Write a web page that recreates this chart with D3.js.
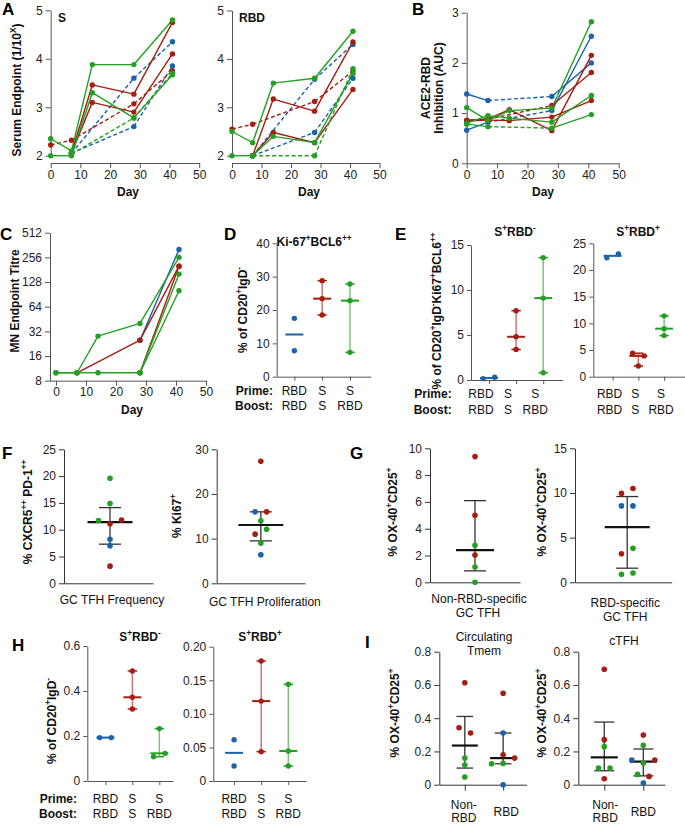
<!DOCTYPE html>
<html><head><meta charset="utf-8">
<script src="https://cdn.jsdelivr.net/npm/d3@7"></script>
<style>body{margin:0;background:#fff} svg{display:block}</style>
</head><body><svg id="c" width="685" height="826"></svg>
<script>
// ================= DATA =================
const days = [0, 7, 14, 28, 41];
const groupNames = ["RBD/RBD", "S/S", "S/RBD"];        // g index -> colour
const groupColors = ["#1c62a6", "#a61d12", "#23a023"];

// A – serum endpoint (log10) vs S
const serumS = [
  { g: 0, v: [null, 2.05, null, 3.60, 4.35] },
  { g: 0, v: [null, 2.05, null, 2.60, 3.85] },
  { g: 1, v: [null, 2.05, 3.46, 3.27, 4.75] },
  { g: 1, v: [null, 2.05, 3.10, 2.90, 4.10] },
  { g: 1, v: [2.22, 2.32, null, 3.07, 3.75] },
  { g: 2, v: [2.35, 2.10, 3.88, 3.88, 4.80] },
  { g: 2, v: [2.00, 2.00, 3.30, 2.78, 3.67] },
  { g: 2, v: [null, 2.03, null, 2.78, 3.70] }
];
// A – serum endpoint vs RBD
const serumRBD = [
  { g: 0, v: [null, 2.00, null, 3.58, 4.30] },
  { g: 0, v: [null, 2.00, null, 2.48, 3.60] },
  { g: 1, v: [null, 2.00, 3.17, 2.92, 4.35] },
  { g: 1, v: [null, 2.00, 2.48, 2.27, 3.37] },
  { g: 1, v: [2.55, 2.65, null, 3.12, 3.75] },
  { g: 2, v: [2.50, 2.27, 3.50, 3.60, 4.57] },
  { g: 2, v: [2.00, 2.00, 2.40, 2.27, 3.70] },
  { g: 2, v: [null, 2.00, null, 2.00, 3.80] }
];
// B – ACE2-RBD inhibition (AUC)
const ace2 = [
  { g: 0, v: [1.38, 1.25, null, 1.33, 2.00] },
  { g: 0, v: [0.66, 0.82, null, 1.05, 2.53] },
  { g: 1, v: [0.86, 0.88, 1.07, 0.65, 2.15] },
  { g: 1, v: [0.84, 0.86, 0.85, 0.92, 1.25] },
  { g: 1, v: [0.85, 0.88, null, 1.15, 1.81] },
  { g: 2, v: [1.11, 0.85, 1.05, 1.10, 2.82] },
  { g: 2, v: [0.80, 0.95, 0.90, 0.82, 1.35] },
  { g: 2, v: [0.78, 0.73, null, 0.70, 0.97] }
];
// C – MN endpoint titre
const mnTitre = [
  { g: 0, v: [null, null, null, 25, 320] },
  { g: 1, v: [null, 10, null, 25, 200] },
  { g: 1, v: [null, null, null, 10, 200] },
  { g: 2, v: [10, 10, 28, 40, 256] },
  { g: 2, v: [10, 10, 10, 10, 160] },
  { g: 2, v: [null, null, null, 10, 100] }
];

// D, E, H – per prime/boost group values
const primeLabels = ["RBD", "S", "S"];
const boostLabels = ["RBD", "S", "RBD"];
const dKi67 = [[17.5, 7.8], [28.8, 23.4, 18.5], [27.8, 22.8, 7.3]];
const eSposRBDneg = [[0.15, 0.30], [7.7, 4.8, 3.4], [13.6, 9.1, 0.8]];
const eSposRBDpos = [[22.3, 23.0], [4.4, 3.9, 2.0], [11.4, 9.0, 7.7]];
const hSposRBDneg = [[0.193, 0.193], [0.489, 0.372, 0.320], [0.233, 0.108, 0.123]];
const hSposRBDpos = [[0.0615, 0.0223], [0.1787, 0.119, 0.0437], [0.144, 0.0447, 0.0223]];

// F, G, I – individual animals (g = group colour)
const fFrequency = [{g:1,v:11.1},{g:2,v:11.7},{g:1,v:11.8},{g:2,v:19.6},{g:2,v:14.9},{g:0,v:8.2},{g:0,v:7.0},{g:1,v:3.2}];
const fProliferation = [{g:1,v:27.3},{g:0,v:16.0},{g:1,v:16.0},{g:2,v:14.0},{g:1,v:11.0},{g:2,v:12.1},{g:2,v:9.0},{g:0,v:6.4}];
const gNonRBD = [{g:1,v:9.38},{g:1,v:5.0},{g:2,v:2.76},{g:1,v:2.04},{g:2,v:1.14},{g:2,v:0.0}];
const gRBD = [{g:1,v:9.95},{g:1,v:10.5},{g:0,v:8.55},{g:0,v:8.55},{g:1,v:3.2},{g:2,v:3.8},{g:2,v:0.9},{g:2,v:1.04}];
const iTmemNonRBD = [{g:1,v:0.613},{g:1,v:0.343},{g:1,v:0.311},{g:2,v:0.16},{g:2,v:0.118},{g:2,v:0.046}];
const iTmemRBD = [{g:1,v:0.55},{g:0,v:0.311},{g:1,v:0.18},{g:2,v:0.128},{g:2,v:0.126},{g:1,v:0.16},{g:0,v:0.0}];
const iCtfhNonRBD = [{g:1,v:0.694},{g:1,v:0.271},{g:2,v:0.229},{g:2,v:0.10},{g:2,v:0.10},{g:1,v:0.036}];
const iCtfhRBD = [{g:1,v:0.299},{g:2,v:0.237},{g:2,v:0.13},{g:0,v:0.148},{g:1,v:0.148},{g:2,v:0.062},{g:1,v:0.05},{g:0,v:0.01}];

// tick values
const serumTicks = [2, 3, 4, 5];
const dayTicks = [0, 10, 20, 30, 40, 50];
const ace2Ticks = [0, 1, 2, 3];
const mnTicks = [8, 16, 32, 64, 128, 256, 512];
const dTicks = [0, 10, 20, 30, 40];
const eLeftTicks = [0, 5, 10, 15];
const eRightTicks = [0, 5, 10, 15, 20, 25];
const fLeftTicks = [0, 5, 10, 15, 20, 25];
const fRightTicks = [0, 10, 20, 30];
const gLeftTicks = [0, 2, 4, 6, 8, 10];
const gRightTicks = [0, 5, 10, 15];
const hLeftTicks = [0, 0.2, 0.4, 0.6];
const hRightTicks = [0, 0.05, 0.10, 0.15, 0.20];
const iTicks = [0, 0.2, 0.4, 0.6, 0.8];

// ================= DRAWING =================
const FONT = '"Liberation Sans", Arial, Helvetica, sans-serif';
const svg = d3.select("#c").attr("font-family", FONT);
const AX = "#555";

function rich(t, str, size) {
  const parts = str.split(/(\^\{[^}]*\})/).filter(s => s.length);
  let up = false;
  parts.forEach(p => {
    const m = p.match(/^\^\{([^}]*)\}$/);
    if (m) {
      t.append("tspan").attr("font-size", size * 0.68).attr("dy", up ? 0 : -size * 0.4).text(m[1]);
      up = true;
    } else {
      t.append("tspan").attr("font-size", size).attr("dy", up ? size * 0.4 : 0).text(p);
      up = false;
    }
  });
  return t;
}
function htext(x, y, str, size, weight, anchor) {
  const t = svg.append("text").attr("x", x).attr("y", y).attr("font-size", size)
    .attr("font-weight", weight || "normal").attr("text-anchor", anchor || "middle").attr("fill", "#111");
  return rich(t, str, size);
}
function vtitle(cx, cy, str, size) {
  size = size || 12;
  const t = svg.append("text").attr("transform", `translate(${cx + size * 0.35},${cy}) rotate(-90)`)
    .attr("text-anchor", "middle").attr("font-size", size).attr("font-weight", "bold").attr("fill", "#111");
  return rich(t, str, size);
}
function letter(t, x, y) {
  svg.append("text").attr("x", x).attr("y", y).attr("font-size", 17).attr("font-weight", "bold").attr("fill", "#000").text(t);
}
function styleAxis(g, size, col) {
  g.attr("font-family", FONT).attr("font-size", size);
  g.select(".domain").attr("stroke", col || AX).attr("stroke-width", 1);
  g.selectAll(".tick line").attr("stroke", col || AX);
  g.selectAll(".tick text").attr("fill", "#222");
}

// ---- line panels (A, B, C)
function linePanel(o) {
  const x = d3.scaleLinear().domain(o.xDom).range(o.xRange);
  const y = (o.log ? d3.scaleLog().base(2) : d3.scaleLinear()).domain(o.yDom).range(o.yRange);
  svg.append("g").attr("transform", `translate(${o.xRange[0]},0)`)
    .call(d3.axisLeft(y).tickValues(o.yTicks).tickSize(5).tickSizeOuter(0).tickPadding(3).tickFormat(d3.format("d")))
    .call(styleAxis, 12);
  svg.append("g").attr("transform", `translate(0,${o.xAxisY})`)
    .call(d3.axisBottom(x).tickValues(dayTicks).tickSize(5).tickSizeOuter(0).tickPadding(2).tickFormat(d3.format("d")))
    .call(styleAxis, 12);
  const series = o.series.slice().sort((a, b) => a.g - b.g);
  const gl = svg.append("g"), gd = svg.append("g");
  series.forEach(s => {
    const pts = days.map((d, i) => ({ d, v: s.v[i], i })).filter(p => p.v != null);
    const col = groupColors[s.g];
    for (let k = 0; k < pts.length - 1; k++) {
      const a = pts[k], b = pts[k + 1];
      let dashed = false;
      if (o.dash === "series") dashed = s.v[2] == null;
      else if (o.dash === "gap") dashed = (b.i - a.i) > 1;
      gl.append("line").attr("x1", x(a.d)).attr("y1", y(a.v)).attr("x2", x(b.d)).attr("y2", y(b.v))
        .attr("stroke", col).attr("stroke-width", 1.4).attr("stroke-dasharray", dashed ? "4,2.5" : null);
    }
    gd.selectAll(null).data(pts).join("circle")
      .attr("cx", p => x(p.d)).attr("cy", p => y(p.v)).attr("r", 2.7).attr("fill", col);
  });
}

// ---- jitter for overlapping points (GraphPad-like rows)
function jitter(vals, y, T, s) {
  const idx = vals.map((v, i) => i).sort((a, b) => vals[a] - vals[b]);
  const groups = []; let cur = null;
  idx.forEach(i => {
    if (cur && Math.abs(y(vals[i]) - y(vals[cur[0]])) < T) cur.push(i);
    else { cur = [i]; groups.push(cur); }
  });
  const off = new Array(vals.length).fill(0);
  groups.forEach(gr => {
    const m = gr.slice().sort((a, b) => a - b), n = m.length;
    const slots = [];
    if (n % 2 === 1) { slots.push(0); for (let k = 1; k <= (n - 1) / 2; k++) slots.push(-k, k); }
    else { for (let k = 0; k < n / 2; k++) slots.push(-(k + 0.5), k + 0.5); }
    m.forEach((mi, j) => off[mi] = slots[j] * s);
  });
  return off;
}
function quart(s, p) {
  const n = s.length, pos = (n + 1) * p;
  if (pos <= 1) return s[0];
  if (pos >= n) return s[n - 1];
  const lo = Math.floor(pos), f = pos - lo;
  return s[lo - 1] + f * (s[lo] - s[lo - 1]);
}

// ---- group panels (D, E, H)
function groupPanel(o) {
  const y = d3.scaleLinear().domain(o.yDom).range([o.yBot, o.yTop]);
  const x = d3.scalePoint().domain([0, 1, 2]).range([o.yAxisX, o.xRight]).padding(o.pad).align(o.align);
  svg.append("g").attr("transform", `translate(${o.yAxisX},0)`)
    .call(d3.axisLeft(y).tickValues(o.yTicks).tickFormat(o.fmt).tickSize(4).tickSizeOuter(0).tickPadding(3))
    .call(styleAxis, 12);
  svg.append("g").attr("transform", `translate(0,${o.yBot})`)
    .call(d3.axisBottom(x).tickSize(4).tickSizeOuter(0).tickFormat(""))
    .call(styleAxis, 12);
  const gl = svg.append("g"), gd = svg.append("g");
  o.data.forEach((vals, ci) => {
    const cx = x(ci), col = groupColors[ci];
    const s = vals.slice().sort(d3.ascending);
    const med = d3.median(s), [lo, hi] = d3.extent(s);
    if (vals.length >= 3) {
      gl.append("line").attr("x1", cx).attr("x2", cx).attr("y1", y(lo)).attr("y2", y(hi))
        .attr("stroke", col).attr("stroke-opacity", 0.6).attr("stroke-width", 1.5);
      [lo, hi].forEach(v => gl.append("line").attr("x1", cx - 4.7).attr("x2", cx + 4.7)
        .attr("y1", y(v)).attr("y2", y(v)).attr("stroke", col).attr("stroke-width", 1.5));
    }
    gl.append("line").attr("x1", cx - 9).attr("x2", cx + 9).attr("y1", y(med)).attr("y2", y(med))
      .attr("stroke", col).attr("stroke-width", 2);
    const off = jitter(vals, y, 6, 11.5);
    gd.selectAll(null).data(vals).join("circle")
      .attr("cx", (v, i) => cx + off[i]).attr("cy", v => y(v)).attr("r", 2.7).attr("fill", col);
    htext(cx + o.lblOff, o.rowY[0], primeLabels[ci], 12);
    htext(cx + o.lblOff, o.rowY[1], boostLabels[ci], 12);
  });
  if (o.rowHead) {
    htext(o.rowHead, o.rowY[0], "Prime:", 12, "bold", "end");
    htext(o.rowHead, o.rowY[1], "Boost:", 12, "bold", "end");
  }
  if (o.title) htext(o.title[0], o.title[1], o.title[2], 12, "bold");
}

// ---- scatter panels (F, G, I)
function scatterPanel(o) {
  const y = d3.scaleLinear().domain(o.yDom).range([o.yBot, o.yTop]);
  const x = d3.scalePoint().domain(d3.range(o.sets.length)).range([o.yAxisX, o.xRight]).padding(o.pad).align(o.align);
  svg.append("g").attr("transform", `translate(${o.yAxisX},0)`)
    .call(d3.axisLeft(y).tickValues(o.yTicks).tickFormat(o.fmt || d3.format("d")).tickSize(5).tickSizeOuter(0).tickPadding(3))
    .call(styleAxis, 12, "#333");
  svg.append("g").attr("transform", `translate(0,${o.yBot})`)
    .call(d3.axisBottom(x).tickSize(o.xTick || 0).tickSizeOuter(0).tickFormat(""))
    .call(styleAxis, 12, "#333");
  const gl = svg.append("g"), gd = svg.append("g");
  o.sets.forEach((set, ci) => {
    const cx = x(ci);
    const vals = set.map(d => d.v);
    const s = vals.slice().sort(d3.ascending);
    const med = d3.median(s), q1 = quart(s, 0.25), q3 = quart(s, 0.75);
    gl.append("line").attr("x1", cx).attr("x2", cx).attr("y1", y(q1)).attr("y2", y(q3)).attr("stroke", "#333").attr("stroke-width", 1.3);
    [q1, q3].forEach(v => gl.append("line").attr("x1", cx - o.cap).attr("x2", cx + o.cap)
      .attr("y1", y(v)).attr("y2", y(v)).attr("stroke", "#333").attr("stroke-width", 1.3));
    gl.append("line").attr("x1", cx - o.med).attr("x2", cx + o.med).attr("y1", y(med)).attr("y2", y(med))
      .attr("stroke", "#111").attr("stroke-width", 2.2);
    const off = jitter(vals, y, 6, 11.5);
    gd.selectAll(null).data(set).join("circle")
      .attr("cx", (d, i) => cx + off[i]).attr("cy", d => y(d.v)).attr("r", 2.8).attr("fill", d => groupColors[d.g]);
    (o.labels[ci] || []).forEach(l => htext(cx + (l[2] || 0), l[1], l[0], 12));
  });
}

const f1 = v => v === 0 ? "0" : d3.format(".1f")(v);
const f2 = v => v === 0 ? "0" : d3.format(".2f")(v);

// ---------- A
letter("A", 2, 15);
linePanel({ series: serumS, xDom: [0, 50], xRange: [50.7, 199.2], yDom: [2, 5], yRange: [155.7, 10.3],
  yTicks: serumTicks, xAxisY: 163, dash: "series" });
htext(58, 22, "S", 12, "bold", "start");
htext(128, 196, "Day", 12, "bold");
vtitle(17, 90, "Serum Endpoint (1/10^{X})", 12);
linePanel({ series: serumRBD, xDom: [0, 50], xRange: [232, 379.5], yDom: [2, 5], yRange: [155.7, 10.5],
  yTicks: serumTicks, xAxisY: 163, dash: "series" });
htext(239, 22, "RBD", 12, "bold", "start");
htext(309, 196, "Day", 12, "bold");

// ---------- B
letter("B", 412, 15);
linePanel({ series: ace2, xDom: [0, 50], xRange: [466.7, 618.7], yDom: [0, 3], yRange: [163.3, 12.7],
  yTicks: ace2Ticks, xAxisY: 163.3, dash: "gap" });
htext(543, 196, "Day", 12, "bold");
vtitle(426, 88, "ACE2-RBD", 12);
vtitle(439, 88, "Inhibition (AUC)", 12);

// ---------- C
letter("C", 0, 240);
linePanel({ series: mnTitre, xDom: [-2, 50], xRange: [50, 206], yDom: [8, 512], yRange: [380.7, 232.7], log: true,
  yTicks: mnTicks, xAxisY: 380.7, dash: "none" });
htext(132, 414, "Day", 12, "bold");
vtitle(15, 301, "MN Endpoint Titre", 12);

// ---------- D
letter("D", 224, 240);
groupPanel({ data: dKi67, yDom: [0, 40], yTop: 243.3, yBot: 376.7, yAxisX: 276.7, xRight: 370.7,
  pad: 0.69, align: 0.46, yTicks: dTicks, fmt: d3.format("d"), rowY: [395, 410], rowHead: 273, lblOff: 0,
  title: [314, 246, "Ki-67^{+}BCL6^{++}"] });
vtitle(243, 310, "% of CD20^{+}IgD^{-}", 12);

// ---------- E
letter("E", 395, 240);
groupPanel({ data: eSposRBDneg, yDom: [0, 15], yTop: 245, yBot: 380, yAxisX: 471, xRight: 562.7,
  pad: 0.69, align: 0.48, yTicks: eLeftTicks, fmt: d3.format("d"), rowY: [398, 414], rowHead: 451.7, lblOff: -8,
  title: [515, 236, "S^{+}RBD^{-}"] });
groupPanel({ data: eSposRBDpos, yDom: [0, 25], yTop: 243.3, yBot: 376.7, yAxisX: 593.3, xRight: 685,
  pad: 0.78, align: 0.48, yTicks: eRightTicks, fmt: d3.format("d"), rowY: [398, 414], rowHead: null, lblOff: -3,
  title: [638, 236, "S^{+}RBD^{+}"] });
vtitle(437, 311, "% of CD20^{+}IgD^{-}Ki67^{+}BCL6^{++}", 12);

// ---------- F
letter("F", 2, 459);
scatterPanel({ sets: [fFrequency], yDom: [0, 25], yTop: 449.3, yBot: 583.3, yAxisX: 64, xRight: 153,
  pad: 0.5, align: 0.517, yTicks: fLeftTicks, med: 22.5, cap: 11, labels: [[["GC TFH Frequency", 604, 2]]] });
vtitle(28, 512, "% CXCR5^{++} PD-1^{++}", 12);
scatterPanel({ sets: [fProliferation], yDom: [0, 30], yTop: 449.3, yBot: 583.3, yAxisX: 216.7, xRight: 305,
  pad: 0.5, align: 0.5, yTicks: fRightTicks, med: 22.5, cap: 11, labels: [[["GC TFH Proliferation", 606, 4]]] });
vtitle(177, 516, "% Ki67^{+}", 12);

// ---------- G
letter("G", 350, 459);
scatterPanel({ sets: [gNonRBD], yDom: [0, 10], yTop: 448.3, yBot: 582.3, yAxisX: 430, xRight: 520,
  pad: 0.5, align: 0.5, yTicks: gLeftTicks, med: 19, cap: 11,
  labels: [[["Non-RBD-specific", 603, 4], ["GC TFH", 617, 3]]] });
vtitle(393, 512, "% OX-40^{+}CD25^{+}", 12);
scatterPanel({ sets: [gRBD], yDom: [0, 15], yTop: 448.3, yBot: 582.3, yAxisX: 575, xRight: 671.7,
  pad: 0.5, align: 0.54, yTicks: gRightTicks, med: 22.5, cap: 11,
  labels: [[["RBD-specific", 607, -2], ["GC TFH", 621, -2]]] });
vtitle(541.7, 512, "% OX-40^{+}CD25^{+}", 12);

// ---------- H
letter("H", 12, 651);
groupPanel({ data: hSposRBDneg, yDom: [0, 0.6], yTop: 646, yBot: 781, yAxisX: 87.3, xRight: 173,
  pad: 0.59, align: 0.57, yTicks: hLeftTicks, fmt: f1, rowY: [803, 818], rowHead: 77, lblOff: 0,
  title: [140, 641, "S^{+}RBD^{-}"] });
vtitle(52, 721, "% of CD20^{+}IgD^{-}", 12);
groupPanel({ data: hSposRBDpos, yDom: [0, 0.2], yTop: 646.7, yBot: 781, yAxisX: 213.3, xRight: 306,
  pad: 0.71, align: 0.54, yTicks: hRightTicks, fmt: f2, rowY: [803, 818], rowHead: null, lblOff: 0,
  title: [260, 641, "S^{+}RBD^{+}"] });

// ---------- I
letter("I", 365, 648);
htext(484, 641, "Circulating", 12);
htext(484, 655, "Tmem", 12);
scatterPanel({ sets: [iTmemNonRBD, iTmemRBD], yDom: [0, 0.8], yTop: 651.7, yBot: 784.7, yAxisX: 439.3, xRight: 526.7,
  pad: 0.64, align: 0.52, yTicks: iTicks, fmt: f1, med: 13, cap: 8.3, xTick: 6,
  labels: [[["Non-", 809, -1], ["RBD", 822, -1]], [["RBD", 816, 3]]] });
vtitle(395, 713, "% OX-40^{+}CD25^{+}", 12);
htext(624, 645, "cTFH", 12);
scatterPanel({ sets: [iCtfhNonRBD, iCtfhRBD], yDom: [0, 0.8], yTop: 651.7, yBot: 784.7, yAxisX: 578.3, xRight: 665,
  pad: 0.61, align: 0.545, yTicks: iTicks, fmt: f1, med: 13.5, cap: 10, xTick: 6,
  labels: [[["Non-", 809, 1], ["RBD", 822, 1]], [["RBD", 816, 0]]] });
vtitle(541.7, 713, "% OX-40^{+}CD25^{+}", 12);
</script>
</body></html>
